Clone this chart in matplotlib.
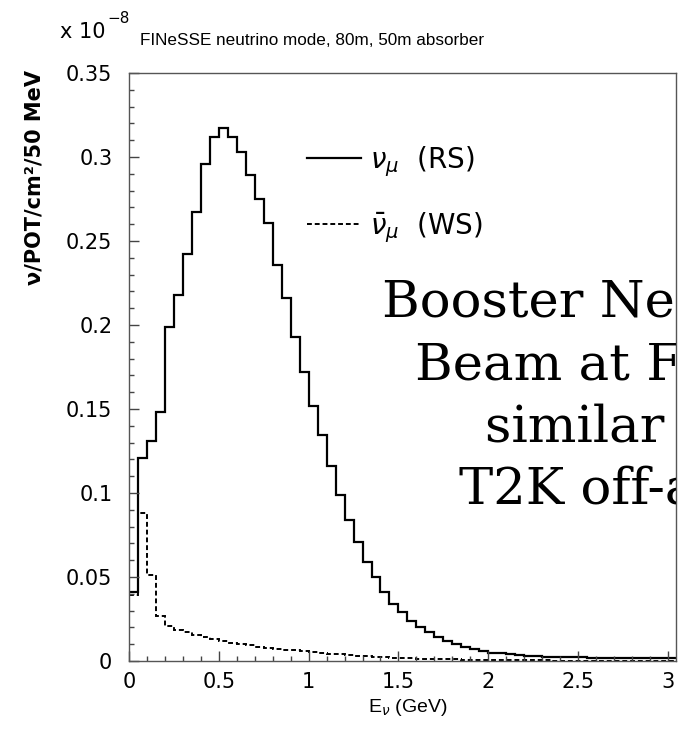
import numpy as np
import matplotlib
matplotlib.use("Agg")
import matplotlib.pyplot as plt
from matplotlib.ticker import MultipleLocator

# flux par bin de 50 MeV, en unités de 1e-8 nu/POT/cm2
bin_width = 0.05
n_bins = 61
edges = np.arange(n_bins + 1) * bin_width

numu_rs = [0.041, 0.121, 0.131, 0.148, 0.199, 0.218, 0.242, 0.267, 0.296, 0.312,
           0.317, 0.312, 0.303, 0.289, 0.275, 0.261, 0.236, 0.216, 0.193, 0.172,
           0.152, 0.1345, 0.116, 0.099, 0.084, 0.071, 0.059, 0.050, 0.041, 0.034,
           0.029, 0.024, 0.020, 0.017, 0.014, 0.012, 0.010, 0.0085, 0.007, 0.006,
           0.005, 0.0045, 0.004, 0.0035, 0.003, 0.0027, 0.0025, 0.0024, 0.0023, 0.0022,
           0.0021, 0.002, 0.002, 0.002, 0.002, 0.0019, 0.0019, 0.0019, 0.0018, 0.0018,
           0.0018]

numubar_ws = [0.039, 0.088, 0.051, 0.027, 0.021, 0.0185, 0.017, 0.0155, 0.0142, 0.013,
              0.012, 0.011, 0.010, 0.0093, 0.0086, 0.008, 0.0074, 0.0068, 0.0063, 0.0058,
              0.0052, 0.0047, 0.0043, 0.0039, 0.0035, 0.0031, 0.0028, 0.0025, 0.0022, 0.002,
              0.0018, 0.0016, 0.0014, 0.0012, 0.0011, 0.001, 0.0009, 0.0008, 0.0007, 0.0006,
              0.0005, 0.0005, 0.0004, 0.0004, 0.0003, 0.0003, 0.0003, 0.0002, 0.0002, 0.0002,
              0.0002, 0.0002, 0.0002, 0.0002, 0.0002, 0.0002, 0.0002, 0.0002, 0.0002, 0.0002,
              0.0002]

xticks = [0, 0.5, 1, 1.5, 2, 2.5, 3]
xtick_labels = ["0", "0.5", "1", "1.5", "2", "2.5", "3"]
yticks = [0, 0.05, 0.1, 0.15, 0.2, 0.25, 0.3, 0.35]
ytick_labels = ["0", "0.05", "0.1", "0.15", "0.2", "0.25", "0.3", "0.35"]

title = "FINeSSE neutrino mode, 80m, 50m absorber"
overlay = ["Booster Neutrino", "Beam at FNAL", "similar to", "T2K off-axis"]

plt.rcParams["font.family"] = ["DejaVu Sans"]

W, H = 681, 729
fig = plt.figure(figsize=(W / 100, H / 100), dpi=100)
ax = fig.add_axes([129 / W, 1 - 661 / H, (676 - 129) / W, (661 - 73) / H])

ax.stairs(numu_rs, edges, color="black", lw=1.6, baseline=None,
          label=r"$\nu_\mu$  (RS)")
ax.stairs(numubar_ws, edges, color="black", lw=1.4, baseline=None,
          linestyle=(0, (2.5, 1.5)), label=r"$\bar{\nu}_\mu$  (WS)")

ax.set_xlim(0, 3.045)
ax.set_ylim(0, 0.35)
ax.set_xticks(xticks, xtick_labels)
ax.set_yticks(yticks, ytick_labels)
ax.xaxis.set_minor_locator(MultipleLocator(0.1))
ax.yaxis.set_minor_locator(MultipleLocator(0.01))
ax.tick_params(which="both", direction="in", top=False, right=False,
               color="#444444", labelsize=15)
ax.tick_params(which="major", length=7, width=1)
ax.tick_params(which="minor", length=3.5, width=1)
ax.tick_params(axis="y", pad=12)
ax.tick_params(axis="x", pad=8)
for s in ax.spines.values():
    s.set_color("#555555")
    s.set_linewidth(1)

leg = ax.legend(loc="upper left", bbox_to_anchor=(307 / W, 1 - 144 / H),
                bbox_transform=fig.transFigure, frameon=False, fontsize=20,
                handlelength=1.95, handletextpad=0.3, labelspacing=1.14,
                borderpad=0, borderaxespad=0)

# textes autour du cadre
fig.text(60 / W, 1 - 38 / H, "x 10", fontsize=15, va="baseline")
fig.text(107 / W, 1 - 23 / H, "\u22128", fontsize=11, va="baseline")
fig.text(140 / W, 1 - 45 / H, title, family="Liberation Sans", fontsize=12.3,
         va="baseline")
fig.text(35 / W, 1 - 70 / H, "\u03bd/POT/cm\u00b2/50 MeV", fontsize=15,
         fontweight="bold", rotation=90, ha="center", va="top")
fig.text(408 / W, 1 - 707 / H, r"E$_\nu$ (GeV)", family="Liberation Sans",
         fontsize=14, ha="center", va="center")

# annotation en gros, coupée au cadre
starts = [382, 415, 485, 459]
baselines = [318, 380, 442, 504]
for txt, x0, yb in zip(overlay, starts, baselines):
    t = ax.text(x0 / W, 1 - yb / H, txt, transform=fig.transFigure,
                family="DejaVu Serif", fontsize=37, va="baseline", ha="left",
                clip_on=True)
    t.set_clip_box(ax.bbox)

fig.savefig("out.png", dpi=100)
